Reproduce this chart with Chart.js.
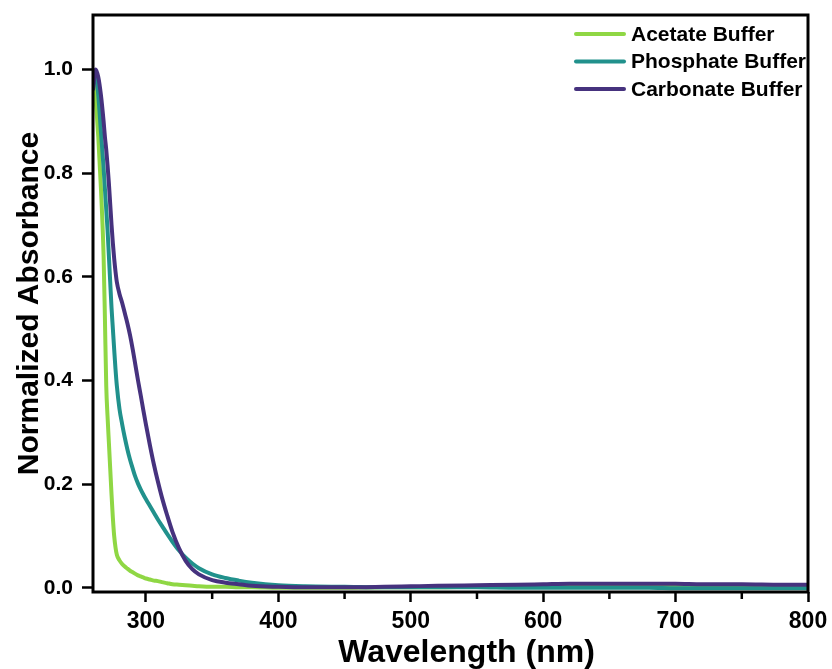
<!DOCTYPE html>
<html>
<head>
<meta charset="utf-8">
<script src="https://cdn.jsdelivr.net/npm/chart.js@4.4.1/dist/chart.umd.min.js"></script>
<style>
  html, body { margin: 0; padding: 0; background: #fff; }
  #wrap { width: 832px; height: 669px; }
</style>
</head>
<body>
<div id="wrap"><canvas id="absChart" width="832" height="669"></canvas></div>
<script>
// wavelength grid (nm)
const wavelengths = [260, 262, 264, 266, 268, 269, 270, 271, 272, 273, 274, 275, 276, 277, 278,
  280, 282, 284, 286, 288, 290, 292, 294, 296, 298, 300, 303, 306, 309, 312, 316, 320, 325,
  330, 335, 340, 350, 360, 370, 380, 400, 420, 450, 480, 500, 520, 550, 580, 600, 620, 650,
  680, 700, 720, 750, 780, 800];

// normalized absorbance
const acetate = [0.99, 0.94, 0.87, 0.77, 0.64, 0.52, 0.39, 0.33, 0.28, 0.23, 0.18, 0.135, 0.10, 0.078, 0.064,
  0.053, 0.046, 0.041, 0.037, 0.033, 0.030, 0.027, 0.024, 0.022, 0.020, 0.018, 0.016, 0.014, 0.013, 0.011, 0.009, 0.007, 0.006,
  0.005, 0.004, 0.003, 0.002, 0.002, 0.001, 0.001, 0.000, 0.000, 0.000, 0.001, 0.001, 0.001, 0.002, 0.002, 0.003, 0.003, 0.003,
  0.003, 0.003, 0.003, 0.003, 0.003, 0.003];

const phosphate = [0.97, 0.995, 0.95, 0.88, 0.81, 0.77, 0.73, 0.69, 0.64, 0.59, 0.54, 0.50, 0.46, 0.422, 0.39,
  0.345, 0.316, 0.29, 0.267, 0.247, 0.23, 0.214, 0.201, 0.19, 0.18, 0.171, 0.158, 0.145, 0.132, 0.12, 0.104, 0.089, 0.072,
  0.058, 0.047, 0.038, 0.026, 0.019, 0.014, 0.010, 0.005, 0.003, 0.002, 0.001, 0.001, 0.001, 0.001, 0.000, 0.000, 0.000, 0.000,
  0.000, -0.001, -0.001, -0.001, -0.001, -0.001];

const carbonate = [0.96, 1.0, 0.985, 0.95, 0.90, 0.87, 0.845, 0.815, 0.78, 0.74, 0.70, 0.665, 0.635, 0.61, 0.59,
  0.567, 0.55, 0.53, 0.51, 0.487, 0.46, 0.43, 0.40, 0.372, 0.343, 0.315, 0.275, 0.238, 0.205, 0.175, 0.14, 0.108, 0.076,
  0.052, 0.036, 0.026, 0.015, 0.010, 0.007, 0.004, 0.002, 0.001, 0.001, 0.002, 0.003, 0.004, 0.005, 0.006, 0.007, 0.008, 0.008,
  0.008, 0.008, 0.007, 0.007, 0.006, 0.006];

const seriesNames = ["Acetate Buffer", "Phosphate Buffer", "Carbonate Buffer"];
const seriesColors = ["#8fd744", "#21918c", "#46327e"];

const xTicks = [300, 400, 500, 600, 700, 800];
const xMinorTicks = [350, 450, 550, 650, 750];
const yTicks = [0.0, 0.2, 0.4, 0.6, 0.8, 1.0];
const xTitle = 'Wavelength (nm)';

const FONT = "'Liberation Sans', Arial, sans-serif";

function toPoints(ys) {
  return wavelengths.map(function (w, i) { return { x: w, y: ys[i] }; });
}

// frame, minor ticks, x title and the legend inside the plot
const framePlugin = {
  id: 'frame',
  afterDraw: function (chart) {
    const c = chart.ctx;
    const a = chart.chartArea;
    const xs = chart.scales.x;
    c.save();
    c.strokeStyle = '#000';
    c.lineWidth = 3;
    c.strokeRect(a.left, a.top, a.right - a.left, a.bottom - a.top);

    c.lineWidth = 2.5;
    xMinorTicks.forEach(function (v) {
      const px = xs.getPixelForValue(v);
      c.beginPath();
      c.moveTo(px, a.bottom);
      c.lineTo(px, a.bottom + 7);
      c.stroke();
    });

    // x axis title, set a little right of centre as in the original
    c.fillStyle = '#000';
    c.font = 'bold 32px ' + FONT;
    c.textAlign = 'center';
    c.textBaseline = 'middle';
    c.fillText(xTitle, (a.left + a.right) / 2 + 16, 653);

    // legend
    c.font = 'bold 21px ' + FONT;
    c.textAlign = 'left';
    chart.data.datasets.forEach(function (ds, i) {
      const y = 34 + i * 27.5;
      c.strokeStyle = ds.borderColor;
      c.lineWidth = 4;
      c.lineCap = 'round';
      c.beginPath();
      c.moveTo(576, y);
      c.lineTo(624, y);
      c.stroke();
      c.fillStyle = '#000';
      c.fillText(ds.label, 631, y + 1);
    });
    c.restore();
  }
};

const ctx = document.getElementById('absChart');

new Chart(ctx, {
  type: 'line',
  data: {
    datasets: [
      { label: seriesNames[0], data: toPoints(acetate), borderColor: seriesColors[0], order: 2 },
      { label: seriesNames[1], data: toPoints(phosphate), borderColor: seriesColors[1], order: 1 },
      { label: seriesNames[2], data: toPoints(carbonate), borderColor: seriesColors[2], order: 0 }
    ].map(function (d) {
      return Object.assign(d, {
        borderWidth: 4,
        pointRadius: 0,
        fill: false,
        cubicInterpolationMode: 'monotone'
      });
    })
  },
  options: {
    responsive: false,
    animation: false,
    layout: { padding: { top: 15, right: 24, left: 0, bottom: 0 } },
    plugins: {
      legend: { display: false },
      tooltip: { enabled: false }
    },
    scales: {
      x: {
        type: 'linear',
        min: 260,
        max: 800,
        afterBuildTicks: function (scale) {
          scale.ticks = xTicks.map(function (v) { return { value: v }; });
        },
        afterFit: function (scale) {
          scale.height = 77;
          scale.paddingLeft = 0;
          scale.paddingRight = 0;
        },
        grid: {
          drawOnChartArea: false,
          drawTicks: true,
          tickLength: 10,
          tickWidth: 2.5,
          tickColor: '#000'
        },
        border: { display: false },
        ticks: {
          color: '#000',
          padding: 6,
          maxRotation: 0,
          font: { family: FONT, size: 23, weight: 'bold' },
          callback: function (v) { return String(v); }
        },
        title: { display: false }
      },
      y: {
        type: 'linear',
        min: -0.008,
        max: 1.105,
        afterBuildTicks: function (scale) {
          scale.ticks = yTicks.map(function (v) { return { value: v }; });
        },
        afterFit: function (scale) {
          scale.width = 93;
          scale.paddingTop = 0;
          scale.paddingBottom = 0;
        },
        grid: {
          drawOnChartArea: false,
          drawTicks: true,
          tickLength: 11,
          tickWidth: 2.5,
          tickColor: '#000'
        },
        border: { display: false },
        ticks: {
          color: '#000',
          padding: 9,
          font: { family: FONT, size: 21, weight: 'bold' },
          callback: function (v) { return Number(v).toFixed(1); }
        },
        title: {
          display: true,
          text: 'Normalized Absorbance',
          color: '#000',
          padding: { top: 12, bottom: 0 },
          font: { family: FONT, size: 30, weight: 'bold' }
        }
      }
    }
  },
  plugins: [framePlugin]
});
</script>
</body>
</html>
